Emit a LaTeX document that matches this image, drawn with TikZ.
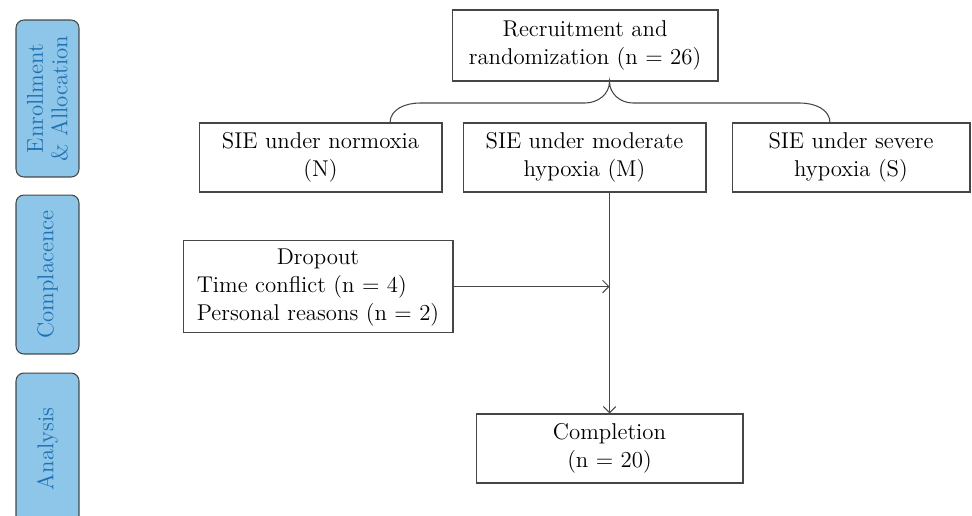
\documentclass[tikz,border=0pt]{standalone}
\usetikzlibrary{arrows.meta}
\definecolor{stagefill}{RGB}{142,198,234}
\definecolor{stagetext}{RGB}{30,112,178}
\definecolor{boxline}{RGB}{70,70,70}
\tikzset{
  flowbox/.style={draw=boxline, line width=0.6pt, align=center, inner sep=2pt,
    minimum height=1.38cm, font=\fontsize{13}{16}\selectfont},
  stage/.style={draw=boxline, line width=0.6pt, fill=stagefill, text=stagetext,
    rounded corners=4.5pt, rotate=90, minimum height=1.26cm, align=center,
    font=\fontsize{13}{14}\selectfont},
  link/.style={draw=boxline, line width=0.6pt},
  >={Straight Barb[length=3.5pt,width=7pt]}
}
\begin{document}
\begin{tikzpicture}[x=0.02cm,y=-0.02cm]
      \clip (0,0) rectangle (972,515);
      \draw
        (47.5,98.5) node[stage, minimum width=3.14cm] (enrol){Enrollment\\ \& Allocation}
        (47.5,274.5) node[stage, minimum width=3.18cm] (comp){Complacence}
        (47.5,449) node[stage, minimum width=3.04cm] (anal){Analysis}
        (585,45.5) node[flowbox, minimum width=5.32cm, minimum height=1.42cm] (rec){Recruitment and\\ randomization (n = 26)}
        (320.5,157.5) node[flowbox, minimum width=4.86cm] (N){SIE under normoxia\\ (N)}
        (584.5,157.5) node[flowbox, minimum width=4.86cm] (M){SIE under moderate\\ hypoxia (M)}
        (851,157.5) node[flowbox, minimum width=4.76cm] (S){SIE under severe\\ hypoxia (S)}
        (318,286.5) node[flowbox, minimum width=5.40cm, minimum height=1.82cm] (drop){%
          \begin{tabular}{@{}l@{}}\multicolumn{1}{@{}c@{}}{Dropout}\\
          Time conflict (n = 4)\\ Personal reasons (n = 2)\end{tabular}}
        (609.5,448.5) node[flowbox, minimum width=5.34cm] (done){Completion\\ (n = 20)};
      \coordinate (tip) at (rec.south -| done.north);
      \coordinate (braceL) at (390,123);
      \coordinate (braceR) at (830,123);
      \begin{scope}[link]
        \draw (braceL) to[out=90,in=180] (420,103) -- (585,103)
          to[out=0,in=-90] (tip) to[out=-90,in=180] (633,103) -- (800,103)
          to[out=0,in=90] (braceR);
        \draw[->] (M.south -| done.north) to (done.north);
        \draw[->] (drop.east) to (drop.east -| done.north);
      \end{scope}
    \end{tikzpicture}
\end{document}
